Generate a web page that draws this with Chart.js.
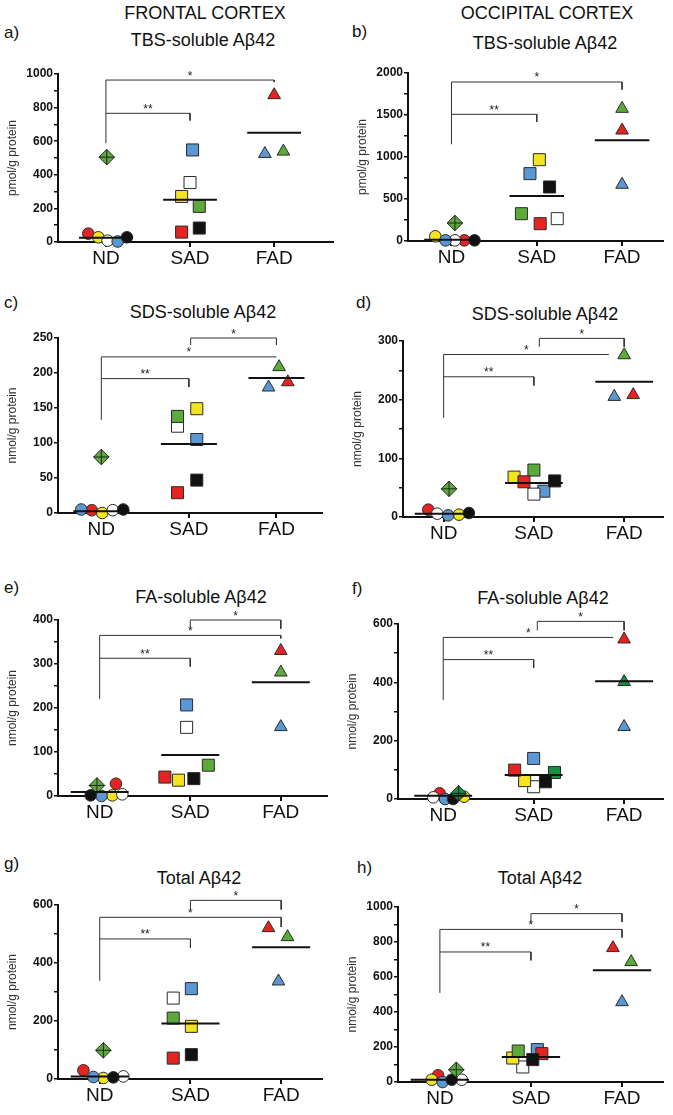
<!DOCTYPE html>
<html>
<head>
<meta charset="utf-8">
<script src="https://cdn.jsdelivr.net/npm/chart.js@4.4.1/dist/chart.umd.min.js"></script>
<style>
  body { margin: 0; background: #fff; width: 673px; height: 1115px; position: relative; overflow: hidden;
         font-family: "Liberation Sans", Arial, sans-serif; color: #111; }
  canvas { position: absolute; }
  .t { position: absolute; white-space: nowrap; line-height: 1; transform: translate(-50%, -50%); font-size: 18px; }
  .l { position: absolute; white-space: nowrap; line-height: 1; transform: translateY(-50%); font-size: 17px; }
</style>
</head>
<body>
<div class="t" style="left:205px;top:13px">FRONTAL CORTEX</div>
<div class="t" style="left:547px;top:13px">OCCIPITAL CORTEX</div>

<div class="l" style="left:4px;top:32px">a)</div>
<div class="l" style="left:352px;top:31px">b)</div>
<div class="l" style="left:4px;top:302px">c)</div>
<div class="l" style="left:356px;top:302px">d)</div>
<div class="l" style="left:4px;top:587px">e)</div>
<div class="l" style="left:352px;top:588px">f)</div>
<div class="l" style="left:4px;top:863px">g)</div>
<div class="l" style="left:357px;top:867px">h)</div>

<div class="t" style="left:203px;top:40px">TBS-soluble Aβ42</div>
<div class="t" style="left:545px;top:43px">TBS-soluble Aβ42</div>
<div class="t" style="left:203px;top:312px">SDS-soluble Aβ42</div>
<div class="t" style="left:545px;top:314px">SDS-soluble Aβ42</div>
<div class="t" style="left:201px;top:597px">FA-soluble Aβ42</div>
<div class="t" style="left:543px;top:598px">FA-soluble Aβ42</div>
<div class="t" style="left:199px;top:878px">Total Aβ42</div>
<div class="t" style="left:540px;top:878px">Total Aβ42</div>

<script>
const FONT = '"Liberation Sans", Arial, sans-serif';

const groups = ['ND', 'SAD', 'FAD'];
// subject colours, same order in every panel
const ndColors = ['red', 'yellow', 'white', 'blue', 'black'];
const sadColors = ['blue', 'white', 'yellow', 'green', 'red', 'black'];
const fadColors = ['red', 'blue', 'green'];

// a) frontal, TBS-soluble (pmol/g)
const a_nd = [50, 28, 8, 3, 28];
const a_ndX = [-0.21, -0.09, 0.02, 0.14, 0.25];
const a_dia = [0.01, 505];
const a_sad = [548, 354, 271, 212, 59, 83];
const a_sadX = [0.03, 0, -0.1, 0.11, -0.1, 0.11];
const a_fad = [875, 525, 539];
const a_fadX = [0, -0.11, 0.11];
const a_med = [25, 252, 651];
const a_ticks = [0, 200, 400, 600, 800, 1000];
const a_sig = [588, 766, 723, 964, 952, null, null, 3, 2];

// b) occipital, TBS-soluble (pmol/g)
const b_nd = [8, 56, 8, 8, 8];
const b_ndX = [0.15, -0.19, 0.04, -0.07, 0.27];
const b_dia = [0.04, 214];
const b_sad = [802, 266, 968, 325, 206, 643];
const b_sadX = [-0.08, 0.24, 0.03, -0.18, 0.04, 0.15];
const b_fad = [1317, 671, 1575];
const b_fadX = [0, 0, 0];
const b_med = [16, 536, 1198];
const b_ticks = [0, 500, 1000, 1500, 2000];
const b_sig = [1151, 1508, 1417, 1893, 1802, null, null, 3, 2];

// c) frontal, SDS-soluble (nmol/g)
const c_nd = [4, 0, 4, 5, 5];
const c_ndX = [-0.11, 0.01, 0.13, -0.23, 0.25];
const c_dia = [0, 80];
const c_sad = [105, 124, 149, 138, 29, 47];
const c_sadX = [0.09, -0.13, 0.09, -0.13, -0.13, 0.09];
const c_fad = [187, 179.5, 208.6];
const c_fadX = [0.13, -0.09, 0.03];
const c_med = [2.4, 98.6, 193];
const c_ticks = [0, 50, 100, 150, 200, 250];
const c_sig = [133, 192, 180, 223, 223, 250, 240, 3, 2.02];

// d) occipital, SDS-soluble
const d_nd = [12.5, 4, 5.7, 2.8, 6.8];
const d_ndX = [-0.17, 0.17, -0.07, 0.05, 0.28];
const d_dia = [0.06, 48];
const d_sad = [44, 39, 68, 80, 60, 61.5];
const d_sadX = [0.11, 0, -0.22, 0, -0.11, 0.23];
const d_fad = [208, 205, 276];
const d_fadX = [0.1, -0.11, 0];
const d_med = [5.7, 58, 230.5];
const d_ticks = [0, 100, 200, 300];
const d_sig = [169, 239, 224, 277, 277, 304.5, 290, 2.83, 2.06];

// e) frontal, FA-soluble
const e_nd = [28, 1.5, 3.8, 0, 1.5];
const e_ndX = [0.18, 0.14, 0.25, 0.02, -0.1];
const e_dia = [-0.03, 24];
const e_sad = [207, 156, 36, 70, 43, 39.5];
const e_sadX = [-0.04, -0.04, -0.13, 0.2, -0.28, 0.04];
const e_fad = [330, 157, 281];
const e_fadX = [0, 0, 0];
const e_med = [9, 93, 258.6];
const e_ticks = [0, 100, 200, 300, 400];
const e_sig = [220, 313, 294, 365, 358, 400, 380, 3, 2];

// f) occipital, FA-soluble
const f_nd = [19.4, 8, 5.7, 0, 0];
const f_ndX = [-0.04, 0.23, -0.11, 0.02, 0.11];
const f_dia = [0.17, 19.4];
const f_sad = [139, 42, 63, 91, 99, 59];
const f_sadX = [0, 0, -0.1, 0.23, -0.21, 0.13];
const f_fad = [547.5, 247.5, 401.5];
const f_fadX = [0, 0, 0];
const f_med = [11.4, 82, 404];
const f_ticks = [0, 200, 400, 600];
const f_sig = [339, 478, 449, 554, 554, 609, 578, 2.88, 2.04];

// g) frontal, total
const g_nd = [30, 3.4, 9, 6.9, 5.7];
const g_ndX = [-0.18, 0.04, 0.26, -0.07, 0.15];
const g_dia = [0.04, 99];
const g_sad = [311.5, 279, 181.6, 210, 72, 84];
const g_sadX = [0.01, -0.19, 0.01, -0.19, -0.19, 0.01];
const g_fad = [520.7, 336.8, 489.7];
const g_fadX = [-0.14, -0.03, 0.07];
const g_med = [9, 191, 454];
const g_ticks = [0, 200, 400, 600];
const g_sig = [339, 483, 452, 557.5, 524, 616, 584, 3, 2];

// h) occipital, total
const h_nd = [38, 13, 13, 0, 13];
const h_ndX = [-0.02, -0.09, 0.24, 0.03, 0.13];
const h_dia = [0.18, 70];
const h_sad = [185, 86, 137, 177, 162, 128];
const h_sadX = [0.07, -0.09, -0.2, -0.14, 0.12, 0.02];
const h_fad = [766, 457, 686];
const h_fadX = [-0.1, 0, 0.1];
const h_med = [13, 143, 638];
const h_ticks = [0, 200, 400, 600, 800, 1000];
const h_sig = [509, 743, 695, 872, 825, 962, 914, 3, 2];

const GREEN = '#5cab3a';

// box = [axis x, top px, axis end x, zero px]
const panels = [
  { box: [58, 74, 333, 242],    xr: [0.43, 3.70], unit: 'pmol/g protein', minor: true,  green: GREEN,
    nd: a_nd, ndX: a_ndX, dia: a_dia, sad: a_sad, sadX: a_sadX, fad: a_fad, fadX: a_fadX, med: a_med, ticks: a_ticks, sig: a_sig },
  { box: [408, 73, 663, 241],   xr: [0.49, 3.48], unit: 'pmol/g protein', minor: true,  green: GREEN,
    nd: b_nd, ndX: b_ndX, dia: b_dia, sad: b_sad, sadX: b_sadX, fad: b_fad, fadX: b_fadX, med: b_med, ticks: b_ticks, sig: b_sig },
  { box: [58, 338, 322, 513],   xr: [0.505, 3.52], unit: 'nmol/g protein', minor: false, green: GREEN,
    nd: c_nd, ndX: c_ndX, dia: c_dia, sad: c_sad, sadX: c_sadX, fad: c_fad, fadX: c_fadX, med: c_med, ticks: c_ticks, sig: c_sig },
  { box: [403, 341, 663, 517],  xr: [0.55, 3.43], unit: 'nmol/g protein', minor: true,  green: GREEN,
    nd: d_nd, ndX: d_ndX, dia: d_dia, sad: d_sad, sadX: d_sadX, fad: d_fad, fadX: d_fadX, med: d_med, ticks: d_ticks, sig: d_sig },
  { box: [58, 620, 327, 796],   xr: [0.54, 3.51], unit: 'nmol/g protein', minor: true,  green: GREEN,
    nd: e_nd, ndX: e_ndX, dia: e_dia, sad: e_sad, sadX: e_sadX, fad: e_fad, fadX: e_fadX, med: e_med, ticks: e_ticks, sig: e_sig },
  { box: [398, 624, 663, 799],  xr: [0.50, 3.43], unit: 'nmol/g protein', minor: true,  green: '#17913f',
    nd: f_nd, ndX: f_ndX, dia: f_dia, sad: f_sad, sadX: f_sadX, fad: f_fad, fadX: f_fadX, med: f_med, ticks: f_ticks, sig: f_sig },
  { box: [58, 905, 322, 1079],  xr: [0.54, 3.45], unit: 'nmol/g protein', minor: true,  green: GREEN,
    nd: g_nd, ndX: g_ndX, dia: g_dia, sad: g_sad, sadX: g_sadX, fad: g_fad, fadX: g_fadX, med: g_med, ticks: g_ticks, sig: g_sig },
  { box: [398, 907, 663, 1082], xr: [0.54, 3.45], unit: 'nmol/g protein', minor: true,  green: GREEN,
    nd: h_nd, ndX: h_ndX, dia: h_dia, sad: h_sad, sadX: h_sadX, fad: h_fad, fadX: h_fadX, med: h_med, ticks: h_ticks, sig: h_sig },
];

// significance asterisks
const starPlugin = {
  id: 'stars',
  afterDatasetsDraw(chart, args, opts) {
    const { ctx, scales: { x, y } } = chart;
    ctx.save();
    ctx.fillStyle = '#222';
    ctx.font = '12px ' + FONT;
    ctx.textAlign = 'center';
    ctx.textBaseline = 'alphabetic';
    opts.items.forEach(s => ctx.fillText(s.t, x.getPixelForValue(s.x), y.getPixelForValue(s.y) - 0.5));
    ctx.restore();
  }
};

function build(p) {
  const padT = 30, padR = 10, yW = 55, xH = 35;
  const cv = document.createElement('canvas');
  cv.width = p.box[2] - p.box[0] + yW + padR;
  cv.height = p.box[3] - p.box[1] + padT + xH;
  cv.style.left = (p.box[0] - yW) + 'px';
  cv.style.top = (p.box[1] - padT) + 'px';
  document.body.appendChild(cv);

  const pal = { red: '#e52421', yellow: '#f4e41f', white: '#ffffff', blue: '#5b97d3', black: '#111111', green: p.green };
  const pts = (vals, offs, x0) => vals.map((v, i) => ({ x: x0 + offs[i], y: v }));
  const line = (data, w, c) => ({ data, showLine: true, borderColor: c, borderWidth: w, pointRadius: 0, clip: false, tension: 0 });
  const mark = (data, cols, style, r) => ({
    data, pointStyle: style, pointRadius: r, pointHoverRadius: r,
    pointBackgroundColor: cols.map(c => pal[c]), pointBorderColor: '#2a2a2a', pointBorderWidth: 1, clip: false
  });

  const [ndLow, yS, ySd, yL, yLd, yT, yTd, lx, tx] = p.sig;
  const ds = [];
  // medians
  p.med.forEach((m, i) => ds.push(line([{ x: i + 1 - 0.32, y: m }, { x: i + 1 + 0.32, y: m }], 2, '#111')));
  // brackets
  const stars = [];
  ds.push(line([{ x: 1, y: ndLow }, { x: 1, y: yL }, { x: lx, y: yL }, { x: lx, y: yLd }], 1, '#333'));
  ds.push(line([{ x: 1, y: yS }, { x: 2, y: yS }, { x: 2, y: ySd }], 1, '#333'));
  stars.push({ x: 1.5, y: yS, t: '**' }, { x: (1 + lx) / 2, y: yL, t: '*' });
  if (yT !== null) {
    ds.push(line([{ x: tx, y: yTd }, { x: tx, y: yT }, { x: 3, y: yT }, { x: 3, y: yTd }], 1, '#333'));
    stars.push({ x: (tx + 3) / 2, y: yT, t: '*' });
  }
  // diamond with cross
  const dPt = [{ x: 1 + p.dia[0], y: p.dia[1] }];
  ds.push({ data: dPt, pointStyle: 'cross', pointRadius: 7.8, pointBorderColor: '#222', pointBorderWidth: 1, clip: false });
  ds.push(mark(dPt, ['green'], 'rectRot', 7.8));
  ds.push(mark(pts(p.fad, p.fadX, 3), fadColors, 'triangle', 7.3));
  ds.push(mark(pts(p.sad, p.sadX, 2), sadColors, 'rect', 8.5));
  ds.push(mark(pts(p.nd, p.ndX, 1), ndColors, 'circle', 5.8));

  const step = p.ticks[1] - p.ticks[0];
  new Chart(cv.getContext('2d'), {
    type: 'scatter',
    data: { datasets: ds },
    plugins: [starPlugin],
    options: {
      responsive: false, animation: false, devicePixelRatio: 1,
      layout: { padding: { top: padT, right: padR, left: 0, bottom: 0 } },
      plugins: { legend: { display: false }, tooltip: { enabled: false }, stars: { items: stars } },
      scales: {
        x: {
          type: 'linear', min: p.xr[0], max: p.xr[1],
          afterBuildTicks: s => { s.ticks = [1, 2, 3].map(v => ({ value: v })); },
          afterFit: s => { s.height = xH; },
          ticks: { callback: v => groups[v - 1], color: '#111', font: { family: FONT, size: 19 }, padding: 0, maxRotation: 0, autoSkip: false },
          grid: { drawOnChartArea: false, drawTicks: true, tickLength: 5, color: '#111', lineWidth: 2 },
          border: { color: '#111', width: 2 }
        },
        y: {
          min: 0, max: p.ticks[p.ticks.length - 1],
          afterFit: s => { s.width = yW; },
          ticks: {
            stepSize: p.minor ? step / 2 : step,
            callback: v => p.ticks.includes(v) ? v : '',
            color: '#111', font: { family: FONT, size: 12, weight: 'bold' }, padding: 1, autoSkip: false
          },
          grid: { drawOnChartArea: false, drawTicks: true, tickLength: 4, color: '#111', lineWidth: 1.5 },
          border: { color: '#111', width: 2 },
          title: { display: true, text: p.unit, color: '#333', font: { family: FONT, size: 12 }, padding: { top: 2, bottom: 0 } }
        }
      }
    }
  });
}

panels.forEach(build);
</script>
</body>
</html>
